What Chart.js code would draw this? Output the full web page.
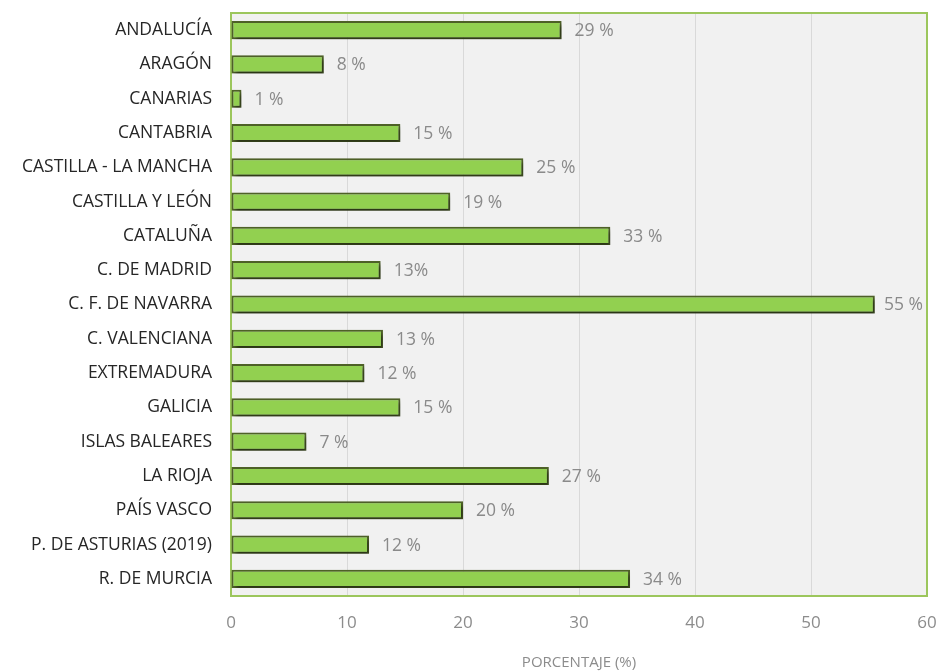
<!DOCTYPE html>
<html>
<head>
<meta charset="utf-8">
<script src="https://cdn.jsdelivr.net/npm/chart.js@4"></script>
<style>
  html, body { margin: 0; padding: 0; background: #fff; }
  #wrap { width: 941px; height: 672px; }
</style>
</head>
<body>
<div id="wrap"><canvas id="myChart" width="941" height="672"></canvas></div>
<script>
const regions = ['ANDALUCÍA', 'ARAGÓN', 'CANARIAS', 'CANTABRIA', 'CASTILLA - LA MANCHA', 'CASTILLA Y LEÓN',
  'CATALUÑA', 'C. DE MADRID', 'C. F. DE NAVARRA', 'C. VALENCIANA', 'EXTREMADURA', 'GALICIA',
  'ISLAS BALEARES', 'LA RIOJA', 'PAÍS VASCO', 'P. DE ASTURIAS (2019)', 'R. DE MURCIA'];
const percent = [28.5, 8.0, 0.9, 14.6, 25.2, 18.9, 32.7, 12.9, 55.5, 13.1, 11.5, 14.6, 6.5, 27.4, 20.0, 11.9, 34.4];
const valueLabels = ['29 %', '8 %', '1 %', '15 %', '25 %', '19 %', '33 %', '13%', '55 %', '13 %', '12 %',
  '15 %', '7 %', '27 %', '20 %', '12 %', '34 %'];
const xTicks = [0, 10, 20, 30, 40, 50, 60];

const FONT = '"Open Sans", "Noto Sans", sans-serif';

// plot area background, green frame, bar shadow and value labels
const plotFrame = {
  id: 'plotFrame',
  beforeDraw(chart) {
    const {ctx, chartArea: a} = chart;
    ctx.save();
    ctx.fillStyle = '#f1f1f1';
    ctx.fillRect(a.left, a.top, a.right - a.left, a.bottom - a.top);
    ctx.restore();
  },
  beforeDatasetsDraw(chart) {
    const {ctx, chartArea: a} = chart;
    ctx.save();
    ctx.strokeStyle = '#9cc65c';
    ctx.lineWidth = 2;
    ctx.strokeRect(a.left, a.top, a.right - a.left, a.bottom - a.top);
    ctx.restore();
    ctx.save();
    ctx.shadowColor = 'rgba(0,0,0,0.5)';
    ctx.shadowBlur = 4;
    ctx.shadowOffsetX = 2;
    ctx.shadowOffsetY = 3;
  },
  afterDatasetsDraw(chart) {
    const {ctx, chartArea: a} = chart;
    ctx.restore();
    ctx.save();
    ctx.font = '17.5px ' + FONT;
    ctx.fillStyle = '#8a8a8a';
    ctx.textAlign = 'left';
    ctx.textBaseline = 'middle';
    chart.getDatasetMeta(0).data.forEach((bar, i) => {
      const w = ctx.measureText(valueLabels[i]).width;
      // keep the label inside the plot frame
      const x = Math.min(bar.x + 13, a.right - 4 - w);
      ctx.fillText(valueLabels[i], x, bar.y + 1);
    });
    ctx.restore();
  }
};

const ctx = document.getElementById('myChart').getContext('2d');

const myChart = new Chart(ctx, {
  type: 'bar',
  data: {
    labels: regions,
    datasets: [{
      data: percent,
      backgroundColor: '#92d050',
      borderColor: '#4f6228',
      borderWidth: 2,
      borderSkipped: false,
      barPercentage: 0.53,
      categoryPercentage: 1,
    }],
  },
  options: {
    indexAxis: 'y',
    responsive: false,
    animation: false,
    layout: {
      padding: {left: 0, right: 14, top: 13, bottom: 0},
    },
    scales: {
      x: {
        min: 0,
        max: 60,
        afterBuildTicks: (scale) => { scale.ticks = xTicks.map(v => ({value: v})); },
        afterFit: (scale) => {
          scale.height = 76;
          scale.paddingLeft = 0;
          scale.paddingRight = 0;
        },
        grid: {color: '#d9d9d9', lineWidth: 1, drawTicks: false},
        border: {display: false},
        ticks: {color: '#8c8c8c', padding: 17, font: {family: FONT, size: 17}},
        title: {
          display: true,
          text: 'PORCENTAJE (%)',
          color: '#8c8c8c',
          font: {family: FONT, size: 15},
          padding: {top: 10, bottom: 0},
        },
      },
      y: {
        afterFit: (scale) => {
          scale.width = 231;
          scale.paddingTop = 0;
          scale.paddingBottom = 0;
        },
        grid: {display: false, drawTicks: false},
        border: {display: false},
        ticks: {color: '#262626', padding: 19, font: {family: FONT, size: 17.5}},
      },
    },
    plugins: {
      legend: {display: false},
      tooltip: {enabled: false},
    },
  },
  plugins: [plotFrame],
});
</script>
</body>
</html>
